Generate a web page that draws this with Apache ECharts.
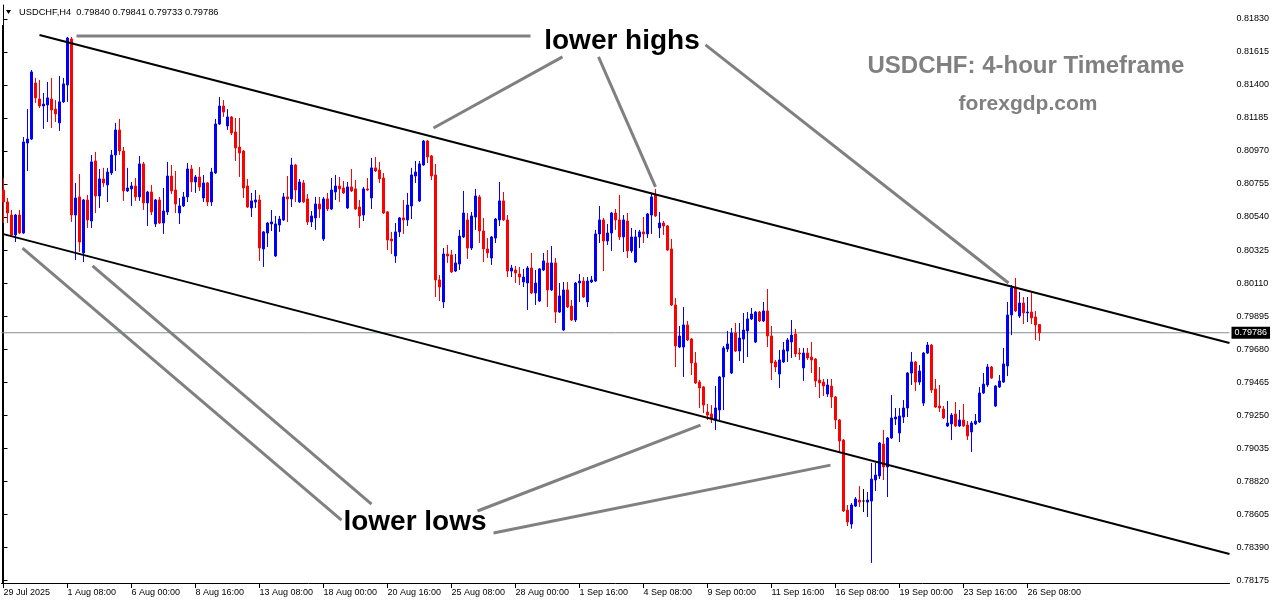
<!DOCTYPE html>
<html>
<head>
<meta charset="utf-8">
<script src="https://cdn.jsdelivr.net/npm/echarts@6/dist/echarts.min.js"></script>
<style>
html,body{margin:0;padding:0;background:#fff;}
#chart{width:1276px;height:604px;}
</style>
</head>
<body>
<div id="chart"></div>
<script>
// ---- data (USDCHF H4, 29 Jul 2025 16:00 .. 26 Sep 2025 20:00) ----
const opens = [
0.80716,0.80638,0.80553,0.80423,0.80553,0.80436,0.81022,0.81048,0.81413,0.81309,
0.81263,0.81270,0.81309,0.81243,0.81153,0.81290,0.81400,0.81700,0.80553,0.80671,
0.80306,0.80651,0.80514,0.80905,0.80677,0.80788,0.80749,0.80827,0.80944,0.81107,
0.80970,0.80710,0.80723,0.80742,0.80671,0.80886,0.80632,0.80703,0.80495,0.80651,
0.80501,0.80573,0.80807,0.80716,0.80566,0.80612,0.80671,0.80853,0.80768,0.80801,
0.80664,0.80762,0.80638,0.80827,0.81146,0.81263,0.81133,0.81192,0.81094,0.80996,
0.80970,0.80742,0.80599,0.80638,0.80651,0.80332,0.80436,0.80495,0.80286,0.80488,
0.80521,0.80671,0.80658,0.80879,0.80638,0.80762,0.80658,0.80508,0.80534,0.80625,
0.80397,0.80658,0.80592,0.80703,0.80742,0.80729,0.80599,0.80736,0.80723,0.80605,
0.80553,0.80723,0.80664,0.80860,0.80846,0.80794,0.80573,0.80397,0.80286,0.80443,
0.80534,0.80521,0.80612,0.80807,0.80645,0.80879,0.81035,0.80938,0.80814,0.80130,
0.79987,0.80299,0.80293,0.80188,0.80234,0.80410,0.80521,0.80338,0.80540,0.80671,
0.80449,0.80332,0.80273,0.80403,0.80521,0.80645,0.80521,0.80188,0.80195,0.80169,
0.80117,0.80110,0.80208,0.80045,0.79993,0.80195,0.80241,0.80065,0.80241,0.79921,
0.79804,0.80065,0.79960,0.79869,0.80110,0.80123,0.79987,0.80117,0.80123,0.80430,
0.80521,0.80384,0.80436,0.80566,0.80521,0.80410,0.80514,0.80319,0.80247,0.80410,
0.80443,0.80430,0.80553,0.80684,0.80469,0.80501,0.80482,0.80332,0.79967,0.79693,
0.79693,0.79837,0.79745,0.79589,0.79465,0.79433,0.79270,0.79257,0.79218,0.79283,
0.79498,0.79680,0.79524,0.79785,0.79667,0.79745,0.79798,0.79876,0.79726,0.79921,
0.79863,0.79928,0.79765,0.79596,0.79517,0.79596,0.79667,0.79726,0.79778,0.79654,
0.79557,0.79654,0.79628,0.79615,0.79478,0.79465,0.79387,0.79439,0.79368,0.79218,
0.79087,0.78631,0.78540,0.78657,0.78696,0.78690,0.78683,0.78690,0.78827,0.78853,
0.79061,0.78912,0.79101,0.79224,0.79133,0.79237,0.79296,0.79524,0.79596,0.79465,
0.79328,0.79654,0.79706,0.79420,0.79309,0.79289,0.79179,0.79192,0.79257,0.79179,
0.79218,0.79185,0.79140,0.79192,0.79205,0.79394,0.79446,0.79563,0.79309,0.79433,
0.79465,0.79570,0.79902,0.80084,0.79895,0.79980,0.79915,0.79921,0.79889,0.79840
];
const closes = [
0.80638,0.80566,0.80423,0.80553,0.80436,0.81029,0.81048,0.81485,0.81316,0.81263,
0.81276,0.81316,0.81237,0.81211,0.81290,0.81407,0.81706,0.80553,0.80664,0.80377,
0.80651,0.80521,0.80899,0.80677,0.80788,0.80762,0.80833,0.80944,0.81107,0.80970,
0.80710,0.80729,0.80742,0.80671,0.80886,0.80632,0.80703,0.80573,0.80651,0.80501,
0.80579,0.80807,0.80710,0.80625,0.80612,0.80671,0.80853,0.80768,0.80801,0.80736,
0.80762,0.80638,0.80833,0.81146,0.81263,0.81224,0.81192,0.81087,0.80990,0.80957,
0.80729,0.80605,0.80645,0.80651,0.80338,0.80443,0.80501,0.80508,0.80495,0.80527,
0.80671,0.80658,0.80879,0.80716,0.80768,0.80638,0.80508,0.80547,0.80625,0.80592,
0.80658,0.80592,0.80716,0.80742,0.80723,0.80697,0.80736,0.80710,0.80592,0.80547,
0.80723,0.80716,0.80860,0.80840,0.80788,0.80566,0.80390,0.80384,0.80443,0.80534,
0.80521,0.80618,0.80814,0.80833,0.80886,0.81035,0.80931,0.80807,0.80130,0.80084,
0.80299,0.80286,0.80182,0.80241,0.80416,0.80566,0.80338,0.80547,0.80677,0.80449,
0.80332,0.80306,0.80410,0.80527,0.80645,0.80521,0.80188,0.80208,0.80175,0.80149,
0.80149,0.80208,0.80045,0.80110,0.80202,0.80254,0.80065,0.80241,0.79921,0.80026,
0.80065,0.79954,0.79869,0.80110,0.80123,0.80019,0.80123,0.80130,0.80430,0.80521,
0.80384,0.80436,0.80566,0.80521,0.80410,0.80521,0.80319,0.80410,0.80410,0.80443,
0.80430,0.80560,0.80671,0.80547,0.80501,0.80482,0.80325,0.79967,0.79700,0.79765,
0.79837,0.79739,0.79589,0.79459,0.79426,0.79315,0.79250,0.79231,0.79296,0.79498,
0.79687,0.79713,0.79785,0.79667,0.79752,0.79804,0.79876,0.79908,0.79921,0.79863,
0.79928,0.79765,0.79589,0.79563,0.79609,0.79674,0.79739,0.79771,0.79648,0.79648,
0.79654,0.79622,0.79609,0.79472,0.79459,0.79439,0.79446,0.79368,0.79218,0.79081,
0.78625,0.78553,0.78664,0.78703,0.78683,0.78690,0.78696,0.78833,0.78859,0.79068,
0.78912,0.79101,0.79231,0.79237,0.79244,0.79296,0.79524,0.79596,0.79465,0.79537,
0.79654,0.79706,0.79413,0.79302,0.79296,0.79231,0.79198,0.79250,0.79179,0.79218,
0.79179,0.79114,0.79198,0.79211,0.79394,0.79452,0.79563,0.79491,0.79439,0.79472,
0.79583,0.79902,0.80078,0.79928,0.79980,0.79915,0.79921,0.79882,0.79837,0.79786
];
const highs = [
0.80794,0.80664,0.80586,0.80560,0.80586,0.81061,0.81243,0.81498,0.81446,0.81433,
0.81348,0.81420,0.81446,0.81302,0.81459,0.81446,0.81713,0.81713,0.80762,0.80820,
0.80658,0.80684,0.80944,0.80964,0.80853,0.80860,0.80860,0.80977,0.81153,0.81179,
0.80996,0.80860,0.80768,0.80794,0.80938,0.80899,0.80710,0.80749,0.80658,0.80671,
0.80729,0.80899,0.80879,0.80840,0.80664,0.80703,0.80892,0.80879,0.80814,0.80866,
0.80814,0.80768,0.80860,0.81179,0.81322,0.81302,0.81243,0.81198,0.81185,0.81185,
0.80977,0.80788,0.80697,0.80716,0.80684,0.80449,0.80508,0.80586,0.80547,0.80547,
0.80697,0.80807,0.80925,0.80886,0.80788,0.80781,0.80690,0.80579,0.80671,0.80671,
0.80671,0.80697,0.80794,0.80814,0.80801,0.80775,0.80768,0.80853,0.80781,0.80651,
0.80736,0.80794,0.80925,0.80931,0.80899,0.80827,0.80579,0.80443,0.80501,0.80540,
0.80651,0.80697,0.80860,0.80905,0.80905,0.81042,0.81042,0.80944,0.80886,0.80162,
0.80338,0.80358,0.80325,0.80299,0.80456,0.80710,0.80566,0.80573,0.80723,0.80684,
0.80534,0.80403,0.80416,0.80534,0.80768,0.80703,0.80553,0.80228,0.80221,0.80215,
0.80202,0.80221,0.80306,0.80195,0.80208,0.80306,0.80325,0.80351,0.80273,0.80110,
0.80117,0.80117,0.80000,0.80117,0.80169,0.80149,0.80149,0.80156,0.80456,0.80612,
0.80534,0.80495,0.80573,0.80592,0.80684,0.80553,0.80566,0.80469,0.80456,0.80456,
0.80540,0.80566,0.80697,0.80723,0.80573,0.80514,0.80488,0.80397,0.80013,0.79830,
0.79954,0.79863,0.79752,0.79661,0.79478,0.79439,0.79322,0.79315,0.79439,0.79504,
0.79700,0.79798,0.79817,0.79850,0.79850,0.79915,0.79921,0.79947,0.79928,0.79928,
0.79987,0.80071,0.79830,0.79609,0.79674,0.79726,0.79752,0.79869,0.79811,0.79687,
0.79687,0.79687,0.79726,0.79622,0.79563,0.79485,0.79485,0.79485,0.79374,0.79224,
0.79094,0.78664,0.78677,0.78716,0.78787,0.78768,0.78749,0.78938,0.78938,0.79074,
0.79153,0.79107,0.79381,0.79296,0.79296,0.79348,0.79530,0.79661,0.79602,0.79576,
0.79661,0.79726,0.79713,0.79485,0.79446,0.79309,0.79342,0.79263,0.79335,0.79283,
0.79322,0.79211,0.79211,0.79257,0.79433,0.79524,0.79583,0.79570,0.79446,0.79511,
0.79687,0.79987,0.80097,0.80143,0.80052,0.80019,0.80019,0.80045,0.79928,0.79841
];
const lows = [
0.80501,0.80501,0.80416,0.80377,0.80430,0.80430,0.80840,0.81042,0.81283,0.81250,
0.81114,0.81159,0.81120,0.81159,0.81101,0.81283,0.81290,0.80508,0.80260,0.80312,
0.80247,0.80469,0.80469,0.80566,0.80599,0.80736,0.80638,0.80814,0.80840,0.80944,
0.80645,0.80703,0.80612,0.80645,0.80645,0.80586,0.80482,0.80553,0.80475,0.80495,
0.80430,0.80553,0.80690,0.80566,0.80495,0.80605,0.80638,0.80703,0.80697,0.80710,
0.80638,0.80612,0.80612,0.80820,0.81140,0.81192,0.81107,0.81074,0.80905,0.80801,
0.80664,0.80599,0.80540,0.80599,0.80254,0.80215,0.80345,0.80449,0.80280,0.80443,
0.80514,0.80508,0.80605,0.80638,0.80632,0.80632,0.80488,0.80475,0.80456,0.80534,
0.80384,0.80579,0.80586,0.80651,0.80638,0.80690,0.80592,0.80703,0.80586,0.80469,
0.80514,0.80710,0.80592,0.80833,0.80762,0.80560,0.80325,0.80299,0.80241,0.80410,
0.80430,0.80482,0.80527,0.80762,0.80638,0.80873,0.80892,0.80781,0.80019,0.79993,
0.79947,0.80241,0.80175,0.80182,0.80195,0.80403,0.80267,0.80325,0.80456,0.80371,
0.80247,0.80273,0.80228,0.80371,0.80482,0.80514,0.80149,0.80149,0.80110,0.80097,
0.80084,0.79934,0.80039,0.79967,0.79987,0.80188,0.79954,0.80058,0.79850,0.79915,
0.79798,0.79947,0.79863,0.79856,0.79987,0.80013,0.79954,0.80110,0.80117,0.80371,
0.80188,0.80358,0.80319,0.80456,0.80390,0.80312,0.80273,0.80306,0.80241,0.80338,
0.80371,0.80403,0.80430,0.80540,0.80403,0.80423,0.80319,0.79960,0.79563,0.79687,
0.79498,0.79732,0.79511,0.79452,0.79296,0.79263,0.79218,0.79198,0.79153,0.79218,
0.79283,0.79661,0.79517,0.79661,0.79602,0.79589,0.79628,0.79869,0.79719,0.79856,
0.79856,0.79693,0.79478,0.79530,0.79426,0.79589,0.79596,0.79622,0.79628,0.79609,
0.79472,0.79609,0.79524,0.79433,0.79361,0.79374,0.79368,0.79296,0.79159,0.79003,
0.78618,0.78527,0.78510,0.78651,0.78651,0.78618,0.78586,0.78287,0.78755,0.78833,
0.78827,0.78716,0.79094,0.79185,0.79074,0.79198,0.79237,0.79446,0.79407,0.79446,
0.79309,0.79648,0.79394,0.79296,0.79270,0.79224,0.79172,0.79087,0.79172,0.79172,
0.79172,0.79087,0.79010,0.79185,0.79198,0.79387,0.79433,0.79485,0.79302,0.79426,
0.79459,0.79504,0.79771,0.79921,0.79882,0.79843,0.79856,0.79843,0.79739,0.79733
];
const symbolName = "USDCHF,H4";
const lastPrice = 0.79786;
const yTickLabels = ["0.78175","0.78390","0.78605","0.78820","0.79035","0.79250","0.79465","0.79680","0.79895",
  "0.80110","0.80325","0.80540","0.80755","0.80970","0.81185","0.81400","0.81615","0.81830"];
const xTickLabels = ["29 Jul 2025","1 Aug 08:00","6 Aug 00:00","8 Aug 16:00","13 Aug 08:00","18 Aug 00:00",
  "20 Aug 16:00","25 Aug 08:00","28 Aug 00:00","1 Sep 16:00","4 Sep 08:00","9 Sep 00:00","11 Sep 16:00",
  "16 Sep 08:00","19 Sep 00:00","23 Sep 16:00","26 Sep 08:00"];
const labelStep = 16;
// channel lines, in [bar index, price]
const upperChannel = [[9.0, 0.81726], [306.5, 0.79719]];
const lowerChannel = [[-0.25, 0.80430], [306.5, 0.78345]];
// grey pointer lines, in [bar index, price]
const pointers = [
  [[18.25, 0.81719], [131.75, 0.81719]],
  [[107.5, 0.81120], [139.75, 0.81583]],
  [[148.75, 0.81583], [163.0, 0.80736]],
  [[175.5, 0.81661], [251.25, 0.80110]],
  [[4.75, 0.80338], [84.5, 0.78566]],
  [[22.25, 0.80221], [92.0, 0.78670]],
  [[118.5, 0.78625], [174.25, 0.79185]],
  [[122.5, 0.78482], [206.75, 0.78924]]
];

// ---- time axis (H4 bars, weekdays only) ----
const TOTAL_SLOTS = 307;
const MONTHS = ["Jan","Feb","Mar","Apr","May","Jun","Jul","Aug","Sep","Oct","Nov","Dec"];
function buildCategories(n) {
  const out = [];
  let t = Date.UTC(2025, 6, 29, 16);
  while (out.length < n) {
    const d = new Date(t);
    const wd = d.getUTCDay();
    if (wd !== 0 && wd !== 6) {
      const hh = String(d.getUTCHours()).padStart(2, "0");
      out.push(d.getUTCDate() + " " + MONTHS[d.getUTCMonth()] + " " + hh + ":00");
    }
    t += 4 * 3600 * 1000;
  }
  return out;
}
const categories = buildCategories(TOTAL_SLOTS);
const ohlc = opens.map((o, i) => [o, closes[i], lows[i], highs[i]]);
const yTickValues = yTickLabels.map(Number);
const isLabelIdx = (idx) => idx % labelStep === 0 && idx / labelStep < xTickLabels.length;

const FONT = '"Liberation Sans", Arial, sans-serif';
const chart = echarts.init(document.getElementById('chart'), null, {renderer: 'canvas'});

const lineSeries = (data, color, width) => ({
  type: 'line', xAxisIndex: 1, yAxisIndex: 0, data: data, symbol: 'none', silent: true,
  lineStyle: {color: color, width: width}, z: 3, animation: false
});

const option = {
  animation: false,
  backgroundColor: '#ffffff',
  grid: {left: 1.5, right: 46.5, top: 5, bottom: 21, containLabel: false},
  xAxis: [
    {
      type: 'category', data: categories, boundaryGap: true, position: 'bottom',
      axisLine: {show: true, lineStyle: {color: '#000', width: 1}},
      axisTick: {show: true, alignWithLabel: true, length: 5, interval: (i) => isLabelIdx(i), lineStyle: {color: '#000'}},
      axisLabel: {
        show: true, interval: (i) => isLabelIdx(i), align: 'left', margin: 5,
        color: '#000', fontSize: 9, fontFamily: FONT,
        formatter: (v, i) => xTickLabels[Math.round(i / labelStep)]
      },
      splitLine: {show: false}
    },
    {type: 'value', min: -0.5, max: TOTAL_SLOTS - 0.5, show: false}
  ],
  yAxis: [{
    type: 'value', position: 'right', scale: true, min: 0.78156, max: 0.81921,
    axisLine: {show: true, lineStyle: {color: '#000', width: 1}},
    axisTick: {show: true, length: 4, customValues: yTickValues, lineStyle: {color: '#000'}},
    axisLabel: {
      show: true, customValues: yTickValues, margin: 7, color: '#000', fontSize: 9, fontFamily: FONT,
      formatter: (v) => v.toFixed(5)
    },
    splitLine: {show: false}
  }],
  series: [
    {
      type: 'line', xAxisIndex: 1, yAxisIndex: 0, silent: true, symbol: 'none', z: 1,
      data: [[-0.5, lastPrice], [TOTAL_SLOTS - 0.5, lastPrice]],
      lineStyle: {color: '#848c94', width: 1, type: 'solid'},
      endLabel: {
        show: true, distance: 2, formatter: () => lastPrice.toFixed(5),
        backgroundColor: '#000', color: '#fff', fontSize: 9, fontFamily: FONT, padding: [2, 3, 1, 3]
      }
    },
    {
      type: 'candlestick', xAxisIndex: 0, yAxisIndex: 0, data: ohlc, barWidth: 2, z: 2,
      itemStyle: {
        color: '#0000ff', color0: '#ff0000',
        borderColor: '#0000ff', borderColor0: '#ff0000', borderColorDoji: '#000000', borderWidth: 1
      }
    },
    lineSeries(upperChannel, '#000000', 2),
    lineSeries(lowerChannel, '#000000', 2),
    ...pointers.map(p => lineSeries(p, '#808080', 3))
  ],
  graphic: [
    {type: 'line', shape: {x1: 2.5, y1: 25, x2: 2.5, y2: 583}, style: {stroke: '#000', lineWidth: 1}, silent: true},
    {type: 'polygon', shape: {points: [[6, 10], [11, 10], [8.5, 14]]}, style: {fill: '#000'}, silent: true},
    {type: 'text', x: 19, y: 12, silent: true,
      style: {text: symbolName + "  " + [opens[259], highs[259], lows[259], closes[259]].map(v => v.toFixed(5)).join(" "),
        font: '9.3px ' + FONT, fill: '#000', verticalAlign: 'middle', align: 'left'}},
    {type: 'text', x: 622, y: 41, silent: true,
      style: {text: 'lower highs', font: 'bold 28px ' + FONT, fill: '#000', align: 'center', verticalAlign: 'middle'}},
    {type: 'text', x: 415, y: 522, silent: true,
      style: {text: 'lower lows', font: 'bold 28px ' + FONT, fill: '#000', align: 'center', verticalAlign: 'middle'}},
    {type: 'text', x: 1026, y: 66, silent: true,
      style: {text: 'USDCHF: 4-hour Timeframe', font: 'bold 24px ' + FONT, fill: '#808080', align: 'center', verticalAlign: 'middle'}},
    {type: 'text', x: 1028, y: 104, silent: true,
      style: {text: 'forexgdp.com', font: 'bold 21px ' + FONT, fill: '#808080', align: 'center', verticalAlign: 'middle'}}
  ]
};
chart.setOption(option);
</script>
</body>
</html>
